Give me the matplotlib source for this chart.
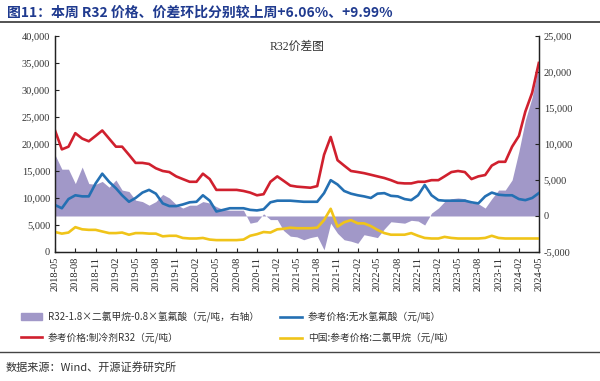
import numpy as np
import pandas as pd
import matplotlib
matplotlib.use('Agg')
import matplotlib.pyplot as plt
from matplotlib.patches import Patch
from matplotlib.lines import Line2D
from matplotlib.ticker import FuncFormatter

plt.rcParams['font.family'] = ['Noto Sans CJK SC', 'DejaVu Sans']

# monthly readings, 2018-05 .. 2024-05
months = pd.date_range('2018-05-01', '2024-05-01', freq='MS')

r32_price = [22500, 19000, 19500, 22000, 21000, 20500, 21500, 22500, 21000, 19500,
             19500, 18000, 16500, 16500, 16300, 15500, 15000, 14800, 14000, 13500,
             13000, 13000, 14500, 13500, 11500, 11500, 11500, 11500, 11300, 11000,
             10500, 10700, 13000, 14000, 13200, 12300, 12100, 12000, 11900, 12200,
             18000, 21300, 17000, 16000, 15000, 14800, 14600, 14300, 14000, 13700,
             13300, 12800, 12700, 12700, 13000, 13000, 13300, 13300, 14000, 14800,
             15000, 14800, 13500, 14000, 14250, 16000, 16700, 16700, 19500, 21500,
             26000, 29500, 35000]

hf_price = [8700, 8100, 9800, 10500, 10300, 10300, 12700, 14500, 13000, 11800,
            10500, 9300, 10000, 11000, 11500, 10800, 9000, 8500, 8500, 8800,
            9200, 9300, 10500, 9500, 7500, 7800, 8100, 8100, 8100, 7800,
            7700, 7900, 9200, 9500, 9500, 9500, 9400, 9300, 9300, 9300,
            10900, 13300, 12500, 11300, 10800, 10500, 10300, 10000, 10800, 10900,
            10400, 10300, 9800, 9600, 10500, 12400, 10500, 9600, 9500, 9500,
            9500, 9500, 9200, 9000, 10300, 11000, 10600, 10500, 10500, 9800,
            9600, 10000, 10900]

dcm_price = [3700, 3400, 3600, 4600, 4200, 4100, 4100, 3800, 3500, 3500,
             3600, 3200, 3500, 3500, 3400, 3400, 2900, 3000, 3000, 2600,
             2500, 2500, 2600, 2300, 2200, 2200, 2200, 2200, 2300, 3000,
             3300, 3700, 3600, 4200, 4300, 4500, 4400, 4400, 4400, 4500,
             5900, 8000, 4700, 5500, 5900, 5300, 5300, 4800, 4100, 3500,
             3200, 3200, 3200, 3500, 3000, 2600, 2500, 2500, 2800, 2600,
             2500, 2500, 2500, 2500, 2600, 3000, 2600, 2500, 2500, 2500,
             2500, 2500, 2500]

spread = [8500, 6500, 6500, 4500, 6800, 4500, 4400, 4800, 4000, 5000,
          3600, 3400, 2200, 2000, 1500, 2000, 3000, 2500, 1600, 1100,
          1500, 1500, 2000, 1800, 1300, 900, 800, 800, 800, -1000,
          -800, 300, -500, -500, -2000, -2800, -2900, -3300, -3000, -2800,
          -4700, -1000, -2400, -3300, -3500, -3800, -2600, -2800, -3000, -1800,
          -800, -900, -1000, -600, -700, -1250, 400, 1100, 2000, 2400,
          2500, 2400, 1800, 1700, 1100, 2400, 3600, 3600, 5000, 9000,
          13300, 16500, 21000]

c_purple = '#a198c8'
c_red = '#d0202e'
c_blue = '#2470b3'
c_yellow = '#f0c419'
serif = 'Liberation Serif'

fig = plt.figure(figsize=(6, 3.81), dpi=100)
ax = fig.add_axes([0.0917, 0.3386, 0.8063, 0.567])
ax2 = ax.twinx()

ax2.fill_between(months, 0, spread, color=c_purple, linewidth=0)
ax2.set_ylim(-5000, 25000)
ax.set_zorder(ax2.get_zorder() + 1)
ax.patch.set_visible(False)

ax.plot(months, r32_price, color=c_red, lw=1.9)
ax.plot(months, hf_price, color=c_blue, lw=1.9)
ax.plot(months, dcm_price, color=c_yellow, lw=1.9)
ax.set_ylim(0, 40000)
ax.set_xlim(months[0], months[-1])

fmt = FuncFormatter(lambda v, p: f'{int(v):,}')
ax.yaxis.set_major_formatter(fmt)
ax2.yaxis.set_major_formatter(fmt)
ax.set_yticks(range(0, 40001, 5000))
ax2.set_yticks(range(-5000, 25001, 5000))

xt = months[::3]
ax.set_xticks(xt)
ax.set_xticklabels([d.strftime('%Y-%m') for d in xt], rotation=90, family=serif, fontsize=7.5, color='#333333')
for a in (ax, ax2):
    a.spines['top'].set_visible(False)
    for s in a.spines.values():
        s.set_color('#222222')
        s.set_linewidth(0.9)
    a.tick_params(direction='in', length=3, width=0.8, colors='#222222', labelsize=7.5)
    for lab in a.get_yticklabels():
        lab.set_family(serif)
        lab.set_color('#333333')

ax.text(0.5, 0.95, 'R32价差图', transform=ax.transAxes, ha='center', va='center',
        fontsize=8.5, color='#333333', family=[serif, 'Noto Sans CJK SC'])

handles = [Patch(color=c_purple),
           Line2D([], [], color=c_red, lw=1.9),
           Line2D([], [], color=c_blue, lw=1.9),
           Line2D([], [], color=c_yellow, lw=1.9)]
labels = ['R32-1.8×二氯甲烷-0.8×氢氟酸（元/吨，右轴）',
          '参考价格:制冷剂R32（元/吨）',
          '参考价格:无水氢氟酸（元/吨）',
          '中国:参考价格:二氯甲烷（元/吨）']
fig.legend(handles, labels, ncol=2, loc='upper left', bbox_to_anchor=(0.02, 0.205), frameon=False,
           handlelength=2.2, handletextpad=0.6, columnspacing=2.2, labelspacing=1.0,
           prop={'family': ['Noto Sans CJK SC', 'DejaVu Sans'], 'size': 7})
for t in fig.legends[0].get_texts():
    t.set_color('#333333')

fig.text(0.012, 0.966, '图11：本周 R32 价格、价差环比分别较上周+6.06%、+9.99%',
         fontsize=10, fontweight='bold', color='#1f3a8f', va='center')
fig.add_artist(Line2D([0.0, 1.0], [0.942, 0.942], color='#444444', lw=1.3))
fig.add_artist(Line2D([0.0, 1.0], [0.076, 0.076], color='#444444', lw=1.0))
fig.text(0.01, 0.037, '数据来源：Wind、开源证券研究所', fontsize=8, color='#333333', va='center')

fig.savefig('out.png', dpi=100)
